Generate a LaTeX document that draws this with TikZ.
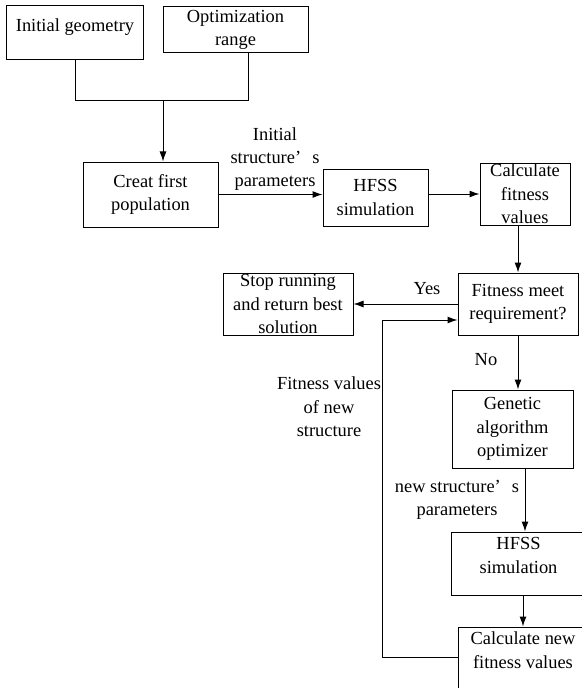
\documentclass[tikz,border=0pt]{standalone}
\usepackage{fontspec}
\setmainfont{Liberation Serif}
\usetikzlibrary{arrows.meta,calc}
\begin{document}
\begin{tikzpicture}[x=1bp,y=-1bp,
  font=\fontsize{18.5}{23.5}\selectfont,
  box/.style={draw=black, line width=1bp, inner sep=0pt, align=center},
  arr/.style={-{Latex[length=10bp,width=7bp]}, line width=1bp},
  conn/.style={line width=1bp},
  lbl/.style={inner sep=0pt, align=center}]
\useasboundingbox (0,0) rectangle (582,688);
\begin{scope}
\clip (0,0) rectangle (582,688);
% boxes
\node[box, minimum width=136bp, minimum height=54bp,
      label={[lbl, yshift=6bp]center:Initial geometry}] (geom) at (75,33) {};
\node[box, minimum width=145bp, minimum height=46bp] (opt) at (235.5,30) {Optimization\\range};
\node[box, minimum width=135bp, minimum height=65bp] (creat) at (150.5,194.5) {Creat first\\population};
\node[box, minimum width=105bp, minimum height=57bp] (hfssa) at (375.5,197.5) {HFSS\\simulation};
\node[box, minimum width=90bp, minimum height=62bp] (calca) at (525,194) {Calculate\\fitness\\values};
\node[box, minimum width=120bp, minimum height=62bp] (fit) at (518,304) {Fitness meet\\requirement?};
\node[box, minimum width=130bp, minimum height=62bp] (stop) at (288,304) {Stop running\\and return best\\solution};
\node[box, minimum width=121bp, minimum height=78bp] (gen) at (512.5,429) {Genetic\\algorithm\\optimizer};
\node[box, minimum width=135bp, minimum height=63bp,
      label={[lbl, yshift=8bp]center:HFSS\\simulation}] (hfssb) at (518.5,563.5) {};
\node[box, minimum width=130bp, minimum height=73bp,
      label={[lbl, yshift=13.5bp]center:Calculate new\\fitness values}] (calcb) at (523,663.5) {};
% free labels
\node[lbl] (initp) at (275,159) {Initial\\structure’\hspace{0.6em}s\\parameters};
\node[lbl] (yes) at (427,289) {Yes};
\node[lbl] (no) at (486,360) {No};
\node[lbl] (fnew) at (329,407) {Fitness values\\of new\\structure};
\node[lbl] (newp) at (457,500) {new structure’\hspace{0.6em}s\\parameters};
% connectors
\coordinate (jm) at (163,100);
\draw[conn] (geom.south) |- ($(opt.south)+(12.5,47)$) -- ($(opt.south)+(12.5,0)$);
\draw[arr] (jm) -- (jm |- creat.north);
\draw[arr] (creat.east) -- (creat.east -| hfssa.west);
\draw[arr] (calca.west -| hfssa.east) -- (calca.west);
\draw[arr] (fit.north |- calca.south) -- (fit.north);
\draw[arr] (fit.west) -- (stop.east);
\draw[arr] (fit.south) -- (fit.south |- gen.north);
\coordinate (g1) at ($(gen.south)+(12.5,0)$);
\draw[arr] (g1) -- (g1 |- hfssb.north);
\draw[arr] (calcb.north |- hfssb.south) -- (calcb.north);
\draw[arr] ($(calcb.west)+(0,-6.5)$) -- ++(-75,0) |- ($(fit.west)+(0,16)$);
\end{scope}
\end{tikzpicture}
\end{document}
